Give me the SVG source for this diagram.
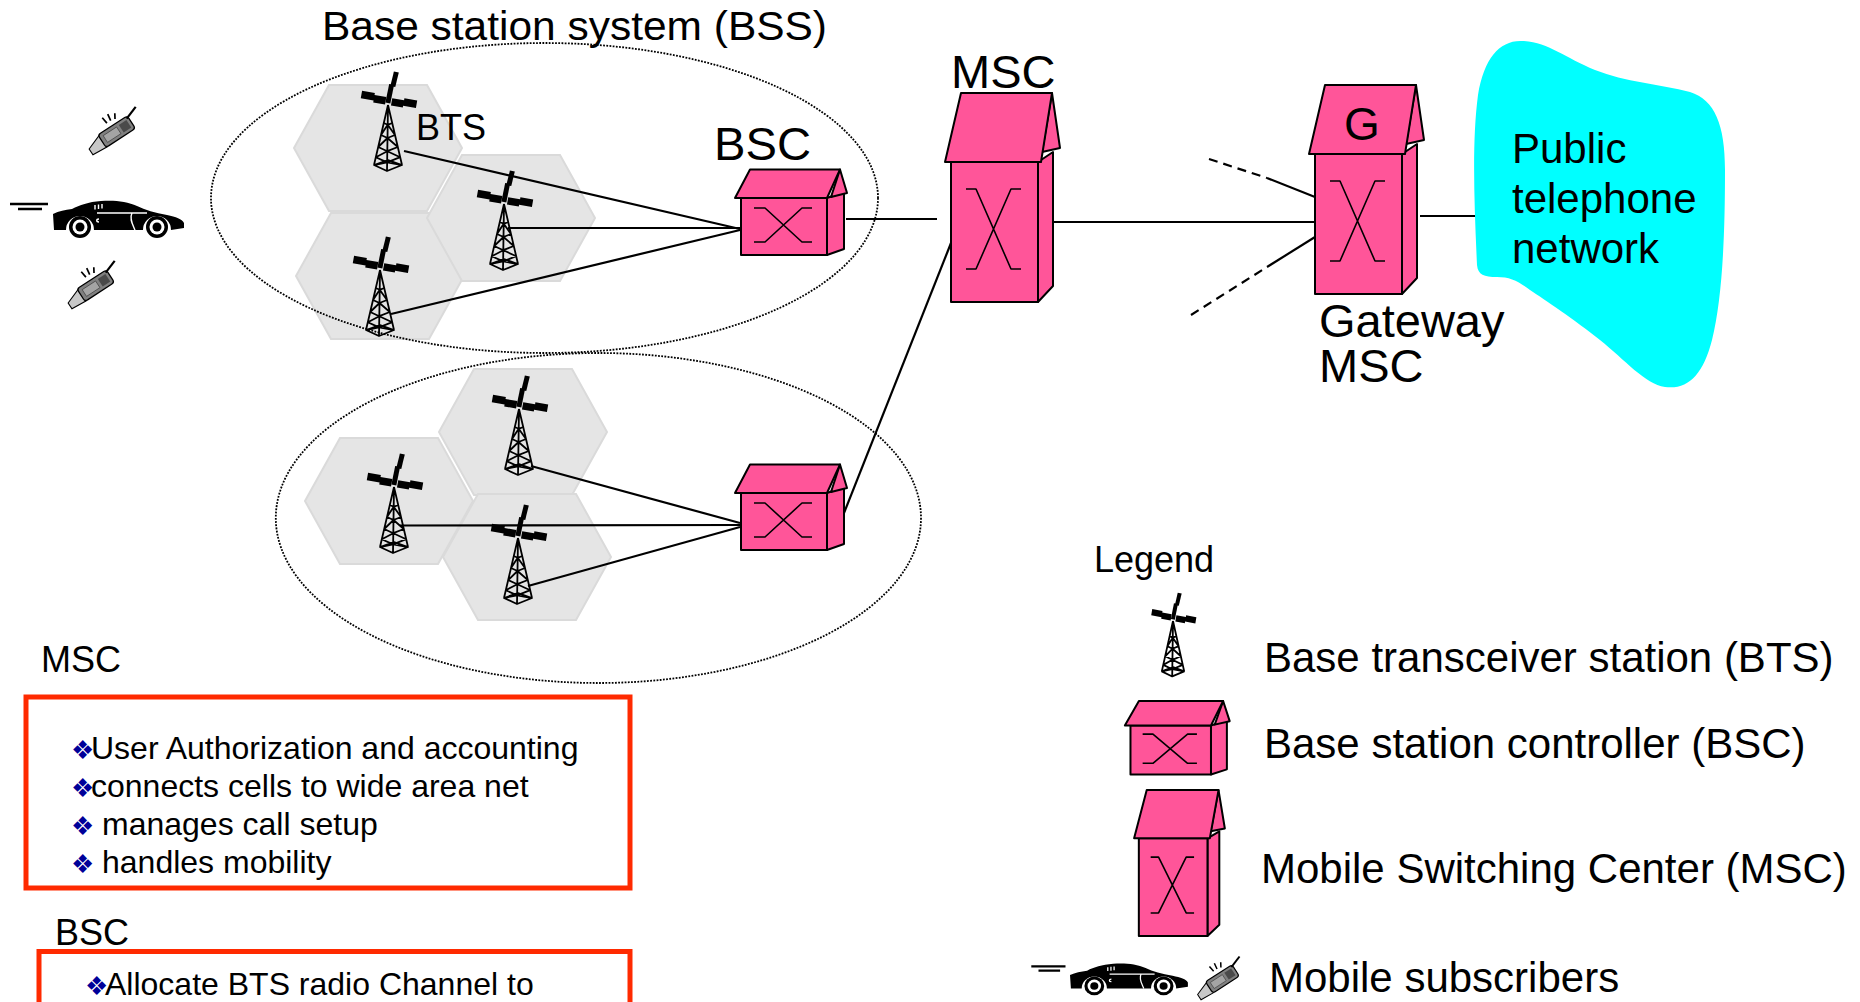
<svg xmlns="http://www.w3.org/2000/svg" width="1860" height="1002" viewBox="0 0 1860 1002">
<style>
  .lbl{font-family:"Liberation Sans",Arial,Helvetica,sans-serif;fill:#000}
  .hex{fill:#E5E5E5;stroke:#DADADA;stroke-width:2}
  .bss{fill:none;stroke:#000;stroke-width:1.8;stroke-dasharray:1.8 1.4}
  .pink{fill:#FF5599;stroke:#000;stroke-width:2;stroke-linejoin:round;vector-effect:non-scaling-stroke}
  .xsym{fill:none;stroke:#000;stroke-width:1.6;stroke-linejoin:round;vector-effect:non-scaling-stroke}
  .link{fill:none;stroke:#000;stroke-width:2.2}
  .dash{stroke-dasharray:9 6}
  .box{fill:none;stroke:#FF2A00;stroke-width:5}
  .bullet{font-family:"DejaVu Sans",sans-serif;fill:#000099}
  .tw{fill:none;stroke:#000;stroke-width:1.8;stroke-linejoin:round;vector-effect:non-scaling-stroke}
</style>
<defs>
  <!-- hexagonal radio cell -->
  <polygon id="hex" class="hex" points="-84,0 -49,-63 49,-63 84,0 49,63 -49,63"/>

  <!-- BTS antenna mast, origin at the top of the lattice -->
  <g id="tower">
    <g transform="rotate(10)" fill="#000">
      <polygon points="0,-34 5,-34 4,-19 -1,-19"/>
      <polygon points="-2.5,-21 2.5,-21 2,-2 -3,-2"/>
      <polygon points="-28,-9.5 -15,-9.5 -15,-7.5 -3,-7.5 -3,0 -15,0 -15,-2 -28,-2"/>
      <polygon points="3,-7.5 15,-7.5 15,-9.5 28,-9.5 28,-2 15,-2 15,0 3,0"/>
    </g>
    <path class="tw" d="M0,0 L-14,60 M0,0 L14,60 M0,0 L-1,66 M-14,60 L-1,66 L14,60 L0,55 Z
      M-4.2,18 L-0.3,19.8 L4.2,18 M-7,30 L-0.5,33 L7,30 M-9.8,42 L-0.7,46.2 L9.8,42
      M-12.2,52.2 L-0.9,57.4 L12.2,52.2
      M-7,30 L-0.3,19.8 L7,30 M-9.8,42 L-0.5,33 L9.8,42 M-12.2,52.2 L-0.7,46.2 L12.2,52.2
      M-14,60 L-0.9,57.4 L14,60"/>
  </g>

  <!-- base station controller hut -->
  <g id="bsc-shape">
    <polygon class="pink" points="827,198 844,192 844,249 827,255"/>
    <polygon class="pink" points="840,169.5 847,193 831,197"/>
    <rect class="pink" x="741" y="198" width="86" height="57"/>
    <polygon class="pink" points="735,198 750,169.5 840,169.5 827,198"/>
    <path class="xsym" d="M754,208 H765 L802,242 H812 M812,208 H802 L765,242 H754"/>
  </g>

  <!-- mobile switching centre tower block -->
  <g id="msc-shape">
    <polygon class="pink" points="1038,162 1053,152 1053,286 1038,302"/>
    <polygon class="pink" points="1052,93 1060,148 1042,152"/>
    <rect class="pink" x="951" y="162" width="87" height="140"/>
    <polygon class="pink" points="945,162 961,93 1052,93 1041,162"/>
    <path class="xsym" d="M966,189 H976 L1011,269 H1021 M1021,189 H1011 L976,269 H966"/>
  </g>

  <!-- car silhouette with speed lines, origin at rear top-left -->
  <g id="car">
    <path d="M-43,4 H-5 M-35,9 H-11" stroke="#000" stroke-width="2.5"/>
    <path fill="#000" d="M0,14 C6,11 12,10 19,9 C27,5 35,2 48,1 C60,0 74,1 84,6 C92,10 102,13 114,15 C123,17 129,19 131,23 L131,28 L118,30 A14,14 0 1 0 90,30 L41,30 A14,14 0 1 0 13,30 L1,30 Z"/>
    <path d="M44,13 H94 M79,13 C76,19 80,25 82,30 M42,5 L42,9.5 M45.5,4.5 L45.5,9 M49,4 L49,8.5 M46,19 C43,19 43,22 46,22" stroke="#fff" stroke-width="1.4" fill="none"/>
    <circle cx="27" cy="27" r="11" fill="#000"/>
    <circle cx="27" cy="27" r="7.5" fill="#fff"/>
    <circle cx="27" cy="27" r="4.5" fill="#000"/>
    <circle cx="104" cy="27" r="11" fill="#000"/>
    <circle cx="104" cy="27" r="7.5" fill="#fff"/>
    <circle cx="104" cy="27" r="4.5" fill="#000"/>
  </g>

  <!-- flip handset, long axis along x -->
  <g id="phone">
    <path d="M0,-13 L-1,-20 M4.5,-13 L5.5,-20 M9,-12 L12,-17" stroke="#000" stroke-width="1.7" fill="none"/>
    <polygon points="-29,-1 -13,-7 -13,7 -29,6" fill="#C8C8C8" stroke="#000" stroke-width="1.1"/>
    <rect x="-14" y="-8" width="35" height="15" rx="3" fill="#808080" stroke="#000" stroke-width="1.3"/>
    <rect x="-10" y="-4.5" width="16" height="8" fill="#A4A4A4" stroke="#333" stroke-width="0.6"/>
    <rect x="9" y="-5" width="9" height="9" fill="#4A4A4A"/>
    <path d="M19,-6 L33,-11" stroke="#000" stroke-width="2.2"/>
  </g>
</defs>

<rect width="1860" height="1002" fill="#fff"/>

<!-- radio cells -->
<g id="cells">
  <use href="#hex" transform="translate(378,148)"/>
  <use href="#hex" transform="translate(380,276)"/>
  <use href="#hex" transform="translate(511,218)"/>
  <use href="#hex" transform="translate(523,432)"/>
  <use href="#hex" transform="translate(389,501)"/>
  <use href="#hex" transform="translate(527,557)"/>
</g>

<!-- base station systems -->
<g id="bss-upper">
  <ellipse class="bss" cx="544.5" cy="198" rx="333.5" ry="155"/>
  <text class="lbl" x="322" y="40" font-size="40" textLength="505" lengthAdjust="spacingAndGlyphs">Base station system (BSS)</text>
</g>
<g id="bss-lower">
  <ellipse class="bss" cx="598.4" cy="518" rx="322.6" ry="165"/>
</g>

<!-- links -->
<g id="connectors">
  <line class="link" x1="404" y1="151" x2="740" y2="229"/>
  <line class="link" x1="508" y1="228" x2="740" y2="228"/>
  <line class="link" x1="391" y1="314" x2="740" y2="230"/>
  <line class="link" x1="531" y1="466" x2="740" y2="523"/>
  <line class="link" x1="400" y1="525.5" x2="740" y2="525"/>
  <line class="link" x1="528" y1="586" x2="740" y2="527"/>
  <line class="link" x1="846" y1="219" x2="937" y2="219"/>
  <line class="link" x1="844" y1="513" x2="951" y2="243"/>
  <line class="link" x1="1046" y1="222" x2="1315" y2="222"/>
  <line class="link" x1="1420" y1="216" x2="1484" y2="216"/>
  <line class="link dash" x1="1209" y1="159" x2="1267" y2="178"/>
  <line class="link" x1="1267" y1="178" x2="1315" y2="197"/>
  <line class="link dash" x1="1191" y1="315" x2="1267" y2="267"/>
  <line class="link" x1="1267" y1="267" x2="1315" y2="237"/>
</g>

<!-- base transceiver stations -->
<g id="bts-1"><use href="#tower" transform="translate(388,105)"/>
  <text class="lbl" x="416" y="140" font-size="36">BTS</text></g>
<g id="bts-2"><use href="#tower" transform="translate(504,204)"/></g>
<g id="bts-3"><use href="#tower" transform="translate(380,270)"/></g>
<g id="bts-4"><use href="#tower" transform="translate(519,409)"/></g>
<g id="bts-5"><use href="#tower" transform="translate(394,487)"/></g>
<g id="bts-6"><use href="#tower" transform="translate(518,538)"/></g>

<!-- base station controllers -->
<g id="bsc-1">
  <use href="#bsc-shape"/>
  <text class="lbl" x="714" y="160" font-size="46" textLength="97" lengthAdjust="spacingAndGlyphs">BSC</text>
</g>
<g id="bsc-2"><use href="#bsc-shape" transform="translate(0,295)"/></g>

<!-- switching centres -->
<g id="msc">
  <use href="#msc-shape"/>
  <text class="lbl" x="951" y="88" font-size="47">MSC</text>
</g>
<g id="gateway-msc">
  <use href="#msc-shape" transform="translate(364,-8)"/>
  <text class="lbl" x="1362" y="140" font-size="46" text-anchor="middle">G</text>
  <text class="lbl" font-size="47"><tspan x="1319" y="337">Gateway</tspan><tspan x="1319" y="382">MSC</tspan></text>
</g>

<!-- public telephone network cloud -->
<g id="pstn">
  <path fill="#00FFFF" d="M1477,265 C1474,200 1472,140 1478,95 C1484,58 1500,40 1522,41 C1548,42 1565,58 1595,70 C1625,82 1660,84 1690,92 C1715,100 1725,125 1725,170 C1725,240 1722,300 1712,340 C1703,375 1688,390 1665,387 C1645,384 1625,360 1600,340 C1575,320 1545,300 1530,290 C1518,281 1510,277 1497,277 C1484,277 1478,275 1477,265 Z"/>
  <text class="lbl" font-size="42"><tspan x="1512" y="163">Public</tspan><tspan x="1512" y="213">telephone</tspan><tspan x="1512" y="263">network</tspan></text>
</g>

<!-- mobile subscribers -->
<g id="phone-1"><use href="#phone" transform="translate(114,134) rotate(-33)"/></g>
<g id="car-1"><use href="#car" transform="translate(53,200)"/></g>
<g id="phone-2"><use href="#phone" transform="translate(93,288) rotate(-33)"/></g>

<!-- MSC duties -->
<g id="msc-notes">
  <text class="lbl" x="41" y="672" font-size="36">MSC</text>
  <rect class="box" x="26" y="697" width="604" height="191"/>
  <text class="bullet" x="71" y="759" font-size="26">❖</text>
  <text class="lbl" x="91" y="759" font-size="32">User Authorization and accounting</text>
  <text class="bullet" x="71" y="797" font-size="26">❖</text>
  <text class="lbl" x="91" y="797" font-size="32">connects cells to wide area net</text>
  <text class="bullet" x="71" y="835" font-size="26">❖</text>
  <text class="lbl" x="102" y="835" font-size="32">manages call setup</text>
  <text class="bullet" x="71" y="873" font-size="26">❖</text>
  <text class="lbl" x="102" y="873" font-size="32">handles mobility</text>
</g>

<!-- BSC duties -->
<g id="bsc-notes">
  <text class="lbl" x="55" y="945" font-size="36">BSC</text>
  <rect class="box" x="39" y="951.5" width="591" height="120"/>
  <text class="bullet" x="85" y="995" font-size="26">❖</text>
  <text class="lbl" x="105" y="995" font-size="32">Allocate BTS radio Channel to</text>
</g>

<!-- legend -->
<g id="legend">
  <text class="lbl" x="1094" y="572" font-size="36">Legend</text>
  <g id="legend-bts">
    <use href="#tower" transform="translate(1173,621) scale(0.8,0.84)"/>
    <text class="lbl" x="1264" y="672" font-size="42">Base transceiver station (BTS)</text>
  </g>
  <g id="legend-bsc">
    <use href="#bsc-shape" transform="translate(436.9,555.2) scale(0.936,0.86)"/>
    <text class="lbl" x="1264" y="758" font-size="42">Base station controller (BSC)</text>
  </g>
  <g id="legend-msc">
    <use href="#msc-shape" transform="translate(388.5,725.2) scale(0.789,0.698)"/>
    <text class="lbl" x="1261" y="883" font-size="42">Mobile Switching Center (MSC)</text>
  </g>
  <g id="legend-subscribers">
    <use href="#car" transform="translate(1070,963) scale(0.9,0.85)"/>
    <use href="#phone" transform="translate(1220,981) rotate(-33) scale(0.9)"/>
    <text class="lbl" x="1269" y="992" font-size="42">Mobile subscribers</text>
  </g>
</g>
</svg>
